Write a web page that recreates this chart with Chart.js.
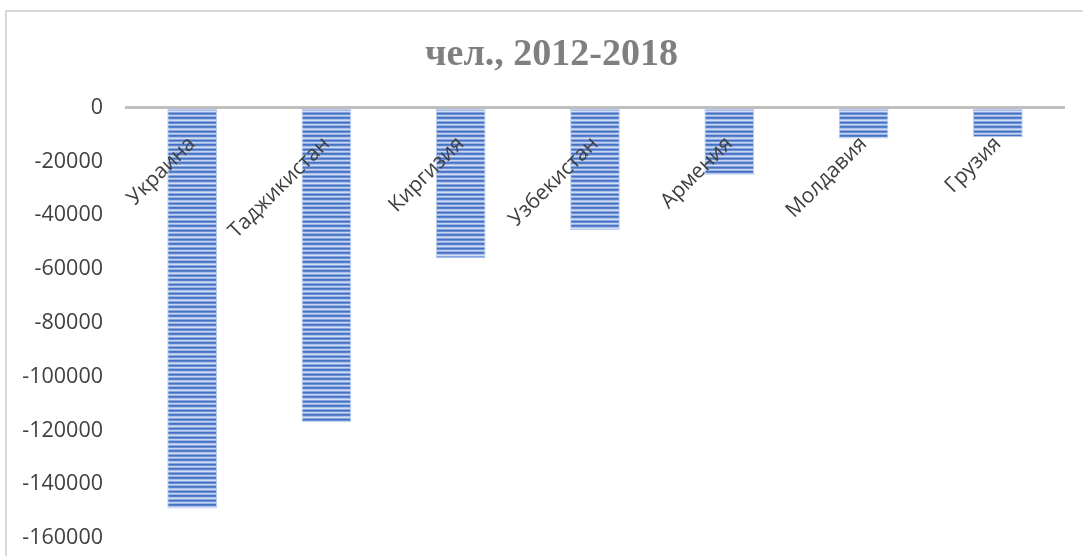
<!DOCTYPE html>
<html>
<head>
<meta charset="utf-8">
<script src="https://cdn.jsdelivr.net/npm/chart.js@4"></script>
<style>
  html, body { margin: 0; padding: 0; background: #fff; }
  #wrap { width: 1083px; height: 556px; position: relative; }
</style>
</head>
<body>
<div id="wrap"><canvas id="myChart" width="1083" height="556"></canvas></div>
<script>
// Данные
const countries = ['Украина', 'Таджикистан', 'Киргизия', 'Узбекистан', 'Армения', 'Молдавия', 'Грузия'];
const migration = [-149000, -117000, -56000, -45500, -25000, -11500, -11000];
const yMin = -160000;
const yMax = 0;
const yStep = 20000;

// Штриховка столбцов: горизонтальные полосы
function stripePattern(ctx) {
    const rows = ['#4472c4', '#5b83cb', '#a9bfe9', '#d2def4', '#86a3dc',
                  '#4472c4', '#6b8fd2', '#c4d4f1', '#9cb4e4'];
    const c = document.createElement('canvas');
    c.width = 4;
    c.height = rows.length;
    const p = c.getContext('2d');
    rows.forEach((col, i) => {
        p.fillStyle = col;
        p.fillRect(0, i, 4, 1);
    });
    return ctx.createPattern(c, 'repeat');
}

// Рамка диаграммы
const framePlugin = {
    id: 'frame',
    beforeDraw(chart) {
        const ctx = chart.ctx;
        ctx.save();
        ctx.strokeStyle = '#d9d9d9';
        ctx.lineWidth = 2;
        ctx.strokeRect(6, 11, chart.width + 20, chart.height + 20);
        ctx.restore();
    }
};

const ctx = document.getElementById('myChart').getContext('2d');
new Chart(ctx, {
    type: 'bar',
    data: {
        labels: countries,
        datasets: [{
            data: migration,
            backgroundColor: stripePattern(ctx),
            borderColor: 'rgba(175,198,236,0.9)',
            borderWidth: 1,
            borderSkipped: false,
            barPercentage: 0.37,
            categoryPercentage: 1
        }]
    },
    options: {
        responsive: false,
        animation: false,
        layout: { padding: { left: 20, right: 0, top: 0, bottom: 18 } },
        plugins: {
            legend: { display: false },
            tooltip: { enabled: false },
            title: {
                display: true,
                text: 'чел., 2012-2018',
                color: '#7f7f7f',
                font: { family: 'Liberation Serif', size: 38, weight: 'bold', lineHeight: 1.2 },
                padding: { top: 32, bottom: 30 }
            }
        },
        scales: {
            x: {
                position: { y: 0 },
                grid: { display: false, drawTicks: false },
                border: { display: false },
                ticks: {
                    z: 1,
                    autoSkip: false,
                    minRotation: 45,
                    maxRotation: 45,
                    padding: 24,
                    color: '#404040',
                    font: { family: 'Open Sans', size: 21 }
                }
            },
            y: {
                min: yMin,
                max: yMax,
                afterFit: s => { s.width = 105; },
                border: { display: false },
                grid: {
                    tickLength: 22,
                    tickColor: 'rgba(0,0,0,0)',
                    lineWidth: 3,
                    color: c => c.tick && c.tick.value === 0 ? '#bfbfbf' : 'rgba(0,0,0,0)'
                },
                ticks: {
                    stepSize: yStep,
                    padding: 0,
                    color: '#404040',
                    font: { family: 'Open Sans', size: 21.5 },
                    callback: v => String(v)
                }
            },
            // пустая ось справа — отступ области построения
            yPad: {
                position: 'right',
                afterFit: s => { s.width = 18; },
                grid: { display: false },
                border: { display: false },
                ticks: { display: false }
            }
        }
    },
    plugins: [framePlugin]
});
</script>
</body>
</html>
